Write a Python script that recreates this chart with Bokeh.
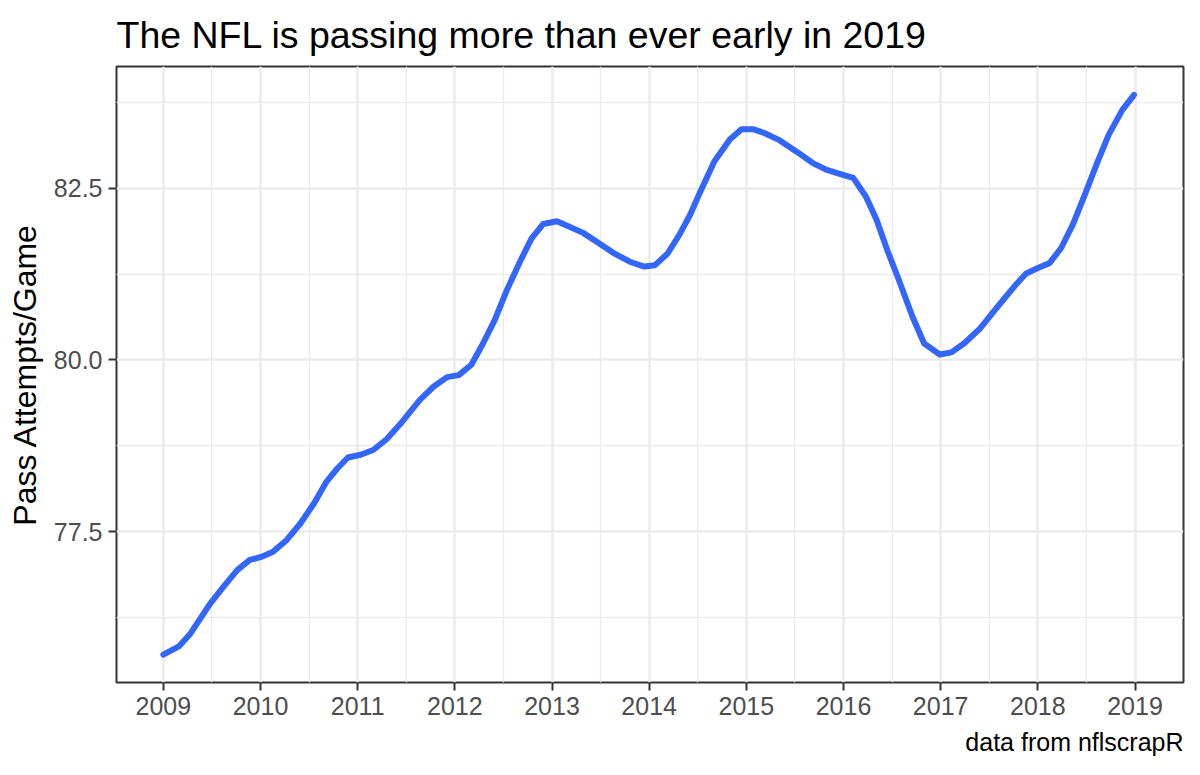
from bokeh.plotting import figure
from bokeh.models import FixedTicker, Range1d, Title, ColumnDataSource
from bokeh.embed import file_html
from bokeh.resources import INLINE

# ---- data ----
season = [2009.00, 2009.16, 2009.28, 2009.48, 2009.62, 2009.76, 2009.89, 2010.00,
          2010.13, 2010.27, 2010.41, 2010.55, 2010.68, 2010.79, 2010.90, 2011.03,
          2011.16, 2011.30, 2011.44, 2011.64, 2011.78, 2011.92, 2012.04, 2012.17,
          2012.29, 2012.41, 2012.53, 2012.67, 2012.79, 2012.91, 2013.05, 2013.18,
          2013.32, 2013.46, 2013.63, 2013.80, 2013.95, 2014.06, 2014.19, 2014.31,
          2014.42, 2014.52, 2014.67, 2014.83, 2014.95, 2015.07, 2015.19, 2015.34,
          2015.51, 2015.68, 2015.82, 2015.96, 2016.10, 2016.23, 2016.34, 2016.45,
          2016.56, 2016.71, 2016.83, 2016.99, 2017.11, 2017.24, 2017.40, 2017.53,
          2017.67, 2017.77, 2017.88, 2018.00, 2018.12, 2018.24, 2018.36, 2018.49,
          2018.61, 2018.73, 2018.87, 2018.99]
pass_attempts = [75.71, 75.83, 76.02, 76.45, 76.70, 76.94, 77.09, 77.13,
                 77.21, 77.38, 77.62, 77.91, 78.23, 78.42, 78.58, 78.62,
                 78.69, 78.85, 79.07, 79.42, 79.61, 79.75, 79.78, 79.93,
                 80.24, 80.58, 81.00, 81.43, 81.77, 81.98, 82.02, 81.94,
                 81.85, 81.72, 81.56, 81.43, 81.36, 81.38, 81.55, 81.82,
                 82.11, 82.43, 82.89, 83.21, 83.36, 83.36, 83.30, 83.20,
                 83.04, 82.87, 82.77, 82.71, 82.65, 82.38, 82.04, 81.60,
                 81.20, 80.63, 80.24, 80.08, 80.11, 80.24, 80.45, 80.68,
                 80.92, 81.09, 81.26, 81.34, 81.41, 81.63, 81.97, 82.43,
                 82.87, 83.28, 83.64, 83.86]

x_ticks = [2009, 2010, 2011, 2012, 2013, 2014, 2015, 2016, 2017, 2018, 2019]
x_minor = [2009.5, 2010.5, 2011.5, 2012.5, 2013.5, 2014.5, 2015.5, 2016.5, 2017.5, 2018.5]
y_ticks = [77.5, 80.0, 82.5]
y_tick_labels = ["77.5", "80.0", "82.5"]
y_minor = [76.25, 78.75, 81.25, 83.75]

title_text = "The NFL is passing more than ever early in 2019"
y_label = "Pass Attempts/Game"
caption_text = "data from nflscrapR"

FONT = "Liberation Sans"

p = figure(width=1200, height=775, output_backend="svg", toolbar_location=None,
           x_range=Range1d(2008.518, 2019.499), y_range=Range1d(75.305, 84.272),
           min_border_left=116, min_border_right=17, min_border_top=66,
           min_border_bottom=93)

p.background_fill_color = "white"
p.border_fill_color = "white"
p.outline_line_color = "#333333"
p.outline_line_width = 2

# title
p.title.text = title_text
p.title.text_font = FONT
p.title.text_font_size = "37.5px"
p.title.text_font_style = "normal"
p.title.text_color = "black"
p.title.align = "left"
p.title.standoff = 22

# ticks
p.xaxis.ticker = FixedTicker(ticks=x_ticks, minor_ticks=x_minor)
p.yaxis.ticker = FixedTicker(ticks=y_ticks, minor_ticks=y_minor)
p.xaxis.major_label_overrides = {t: str(t) for t in x_ticks}
p.yaxis.major_label_overrides = {t: l for t, l in zip(y_ticks, y_tick_labels)}

for ax in (p.xaxis[0], p.yaxis[0]):
    ax.axis_line_color = None
    ax.major_tick_line_color = "#333333"
    ax.major_tick_line_width = 2
    ax.major_tick_out = 8
    ax.major_tick_in = 0
    ax.minor_tick_line_color = None
    ax.major_label_text_font = FONT
    ax.major_label_text_font_size = "25px"
    ax.major_label_text_color = "#4D4D4D"

p.xaxis.major_label_standoff = 6
p.yaxis.major_label_standoff = 6

p.yaxis.axis_label = y_label
p.yaxis.axis_label_text_font = FONT
p.yaxis.axis_label_text_font_size = "32px"
p.yaxis.axis_label_text_font_style = "normal"
p.yaxis.axis_label_text_color = "black"
p.yaxis.axis_label_standoff = 8

# grid
for g in (p.xgrid[0], p.ygrid[0]):
    g.grid_line_color = "#EBEBEB"
    g.grid_line_width = 2.5
    g.minor_grid_line_color = "#EBEBEB"
    g.minor_grid_line_width = 1.3

# caption
cap = Title(text=caption_text, align="right", text_font=FONT,
            text_font_size="25px", text_font_style="normal",
            text_color="black", standoff=16)
p.add_layout(cap, "below")

src = ColumnDataSource(data=dict(x=season, y=pass_attempts))
p.line("x", "y", source=src, line_color="#3366FF", line_width=6,
       line_join="round", line_cap="round")

open("out.html", "w").write(file_html(p, INLINE))
